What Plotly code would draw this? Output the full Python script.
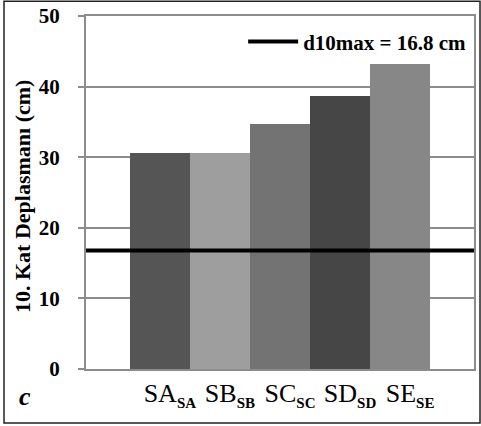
import plotly.graph_objects as go

categories = ["SA", "SB", "SC", "SD", "SE"]
sub_labels = ["SA", "SB", "SC", "SD", "SE"]
values = [30.6, 30.6, 34.7, 38.7, 43.2]
bar_colors = ["#555555", "#9e9e9e", "#737373", "#464646", "#878787"]
limit_value = 16.8
limit_label = "d10max = 16.8 cm"
y_ticks = [0, 10, 20, 30, 40, 50]

serif = "Times New Roman, Liberation Serif, serif"
tick_text = [f"{c}<sub><b><span style='font-size:15px'>{s}</span></b></sub>"
             for c, s in zip(categories, sub_labels)]

fig = go.Figure()
fig.add_trace(go.Bar(
    x=categories, y=values, marker=dict(color=bar_colors, line=dict(width=0)),
    showlegend=False, width=1.0,
))
fig.add_trace(go.Scatter(
    x=[0, 1], y=[limit_value, limit_value], xaxis="x2", mode="lines",
    line=dict(color="black", width=4), name=limit_label, showlegend=True,
))

fig.update_layout(
    width=481, height=426,
    margin=dict(l=86, r=7, t=16, b=57),
    paper_bgcolor="white", plot_bgcolor="white",
    bargap=0,
    font=dict(family=serif, color="black"),
    xaxis=dict(
        type="category", range=[-1.23, 5.23], tickvals=categories, ticktext=tick_text,
        tickfont=dict(size=26, family=serif), showgrid=False, ticks="",
        ticklabelstandoff=0, ticklabelshift=10,
        showline=True, linecolor="#8c8c8c", linewidth=2, mirror=True, zeroline=False,
        automargin=False,
    ),
    xaxis2=dict(overlaying="x", range=[0, 1], visible=False),
    yaxis=dict(
        range=[0, 50], tickvals=y_ticks, tickfont=dict(size=21, family=serif, weight="bold"),
        showgrid=True, gridcolor="#8c8c8c", gridwidth=2,
        ticks="outside", ticklen=6, tickcolor="#8c8c8c", tickwidth=2,
        ticklabelstandoff=14,
        showline=True, linecolor="#8c8c8c", linewidth=2, mirror=True, zeroline=False,
        automargin=False,
    ),
    legend=dict(x=0.405, y=0.985, xanchor="left", yanchor="top", bgcolor="rgba(0,0,0,0)",
                font=dict(size=21, family=serif, weight="bold"), itemwidth=50),
    shapes=[dict(type="rect", xref="paper", yref="paper",
                 x0=-0.2113, x1=1.0155, y0=-0.153, y1=1.042,
                 line=dict(color="#222222", width=1.5), fillcolor="rgba(0,0,0,0)")],
    annotations=[
        dict(text="<b>10. Kat Deplasmanı (cm)</b>", xref="paper", yref="paper",
             x=-0.165, y=0.49, xanchor="center", yanchor="middle", textangle=-90,
             showarrow=False, font=dict(size=22, family=serif)),
        dict(text="<b><i>c</i></b>", xref="paper", yref="paper",
             x=-0.178, y=-0.125, showarrow=False, font=dict(size=26, family=serif)),
    ],
)

fig.write_html("out.html", config={"displayModeBar": False},
               post_script="document.body.style.margin='0';")
